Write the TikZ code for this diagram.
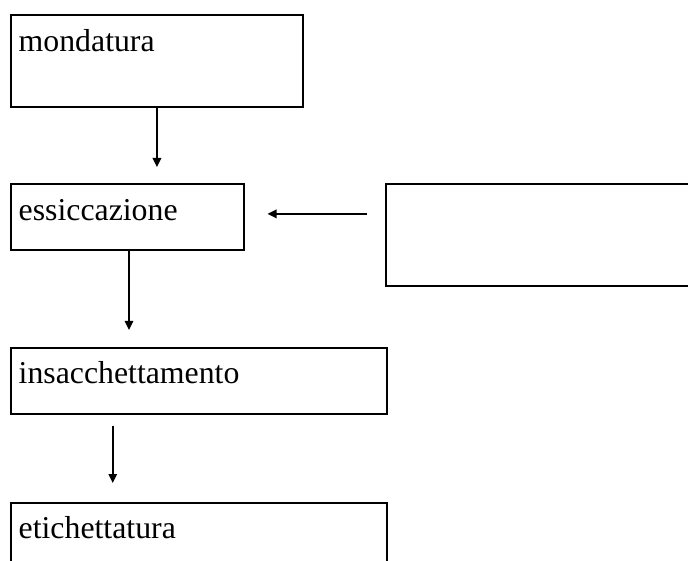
\documentclass[tikz,border=0pt]{standalone}
\usepackage{fontspec}
\setmainfont{Liberation Serif}
\usetikzlibrary{arrows.meta}
\begin{document}
\begin{tikzpicture}[x=1pt,y=-1pt,
  box/.style={draw=black,line width=2pt,inner sep=0pt,anchor=north west},
  lbl/.style={anchor=base west,inner sep=0pt,font=\fontsize{31.8}{36}\selectfont},
  arr/.style={draw=black,line width=1.6pt,-{Triangle[length=9pt,width=8.5pt]}}]
\useasboundingbox (0,0) rectangle (688,561);
\clip (0,0) rectangle (688,561);
\node[box,minimum width=291.5pt,minimum height=92.5pt] (m) at (10,14) {};
\node[box,minimum width=233pt,minimum height=66pt] (e) at (10,182.7) {};
\node[box,minimum width=320pt,minimum height=102.3pt] (r) at (385,182.7) {};
\node[box,minimum width=375.5pt,minimum height=66pt] (i) at (10,346.5) {};
\node[box,minimum width=375.5pt,minimum height=80pt] (et) at (10,502) {};
\node[lbl] (tm) at (18.5,51.7) {mondatura};
\node[lbl] (te) at (18.5,220.7) {essiccazione};
\node[lbl] (ti) at (18.5,383) {insacchettamento};
\node[lbl] (tet) at (18.5,538) {etichettatura};
\draw[arr,shorten >=15.7pt] ([xshift=0.2pt]m.south) -- ([xshift=0.2pt]m.south |- e.north);
\draw[arr,shorten >=16.5pt] ([xshift=1.5pt]e.south) -- ([xshift=1.5pt]e.south |- i.north);
\draw[arr,shorten <=11pt,shorten >=19pt] ([xshift=-86pt]i.south) -- ([xshift=-86pt]i.south |- et.north);
\draw[arr,shorten <=18pt,shorten >=22.5pt] ([yshift=2.8pt]r.west |- e.center) -- ([yshift=2.8pt]e.east);
\end{tikzpicture}
\end{document}
